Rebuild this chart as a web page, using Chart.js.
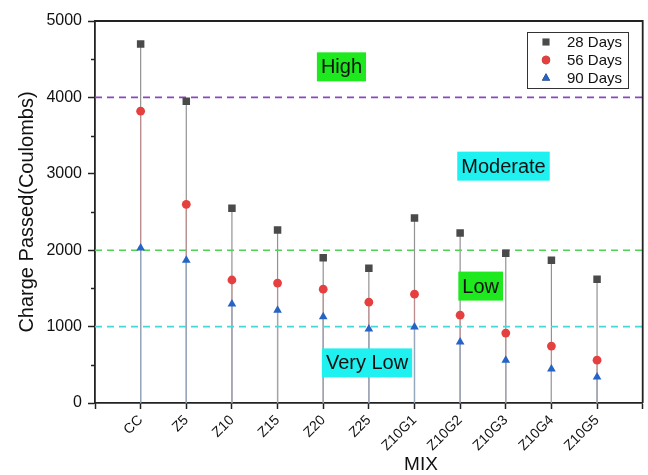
<!DOCTYPE html>
<html>
<head>
<meta charset="utf-8">
<script src="https://cdn.jsdelivr.net/npm/chart.js@4"></script>
<style>
  html, body { margin: 0; padding: 0; background: #fff; }
  #wrap { width: 648px; height: 475px; }
</style>
</head>
<body>
<div id="wrap"><canvas id="rcpt"></canvas></div>
<script>
// mixes and charge passed (Coulombs) at each curing age
const mixes = ['CC', 'Z5', 'Z10', 'Z15', 'Z20', 'Z25', 'Z10G1', 'Z10G2', 'Z10G3', 'Z10G4', 'Z10G5'];
const days28 = [4700, 3950, 2550, 2265, 1900, 1765, 2420, 2225, 1960, 1870, 1620];
const days56 = [3820, 2600, 1610, 1570, 1490, 1320, 1425, 1150, 915, 745, 560];
const days90 = [2030, 1870, 1295, 1215, 1130, 970, 995, 800, 560, 445, 340];
const seriesNames = ['28 Days', '56 Days', '90 Days'];

// chloride penetrability limits and their ratings
const limits = [4000, 2000, 1000];
const ratings = ['High', 'Moderate', 'Low', 'Very Low'];

const FONT = '"Liberation Sans", Arial, sans-serif';

function toPoints(vals) {
    return vals.map((v, i) => ({ x: i + 1, y: v }));
}

// where each rating tag sits, in axis units
const tagSpots = [
    { x: 5.4, y: 4400, bg: '#1ee81e' },
    { x: 8.95, y: 3100, bg: '#1ff0f0' },
    { x: 8.45, y: 1530, bg: '#1ee81e' },
    { x: 5.96, y: 525, bg: '#1ff0f0' }
];
const limitColors = ['#8a48c0', '#4fd24f', '#46d8d8'];

const limitSets = limits.map((lv, i) => ({
    label: 'limit' + lv,
    data: [{ x: 0, y: lv }, { x: 12, y: lv }],
    showLine: true,
    borderColor: limitColors[i],
    borderWidth: 1.6,
    borderDash: [7, 5],
    pointRadius: 0,
    order: 5
}));

const markerSets = [
    { label: seriesNames[0], data: toPoints(days28), pointStyle: 'rect', pointRadius: 5.3, backgroundColor: '#4a4a4a', borderColor: '#4a4a4a', stem: 'rgba(110,110,110,0.75)' },
    { label: seriesNames[1], data: toPoints(days56), pointStyle: 'circle', pointRadius: 4.4, backgroundColor: '#e5403f', borderColor: '#e5403f', stem: 'rgba(205,140,140,0.7)' },
    { label: seriesNames[2], data: toPoints(days90), pointStyle: 'triangle', pointRadius: 5, backgroundColor: '#2563c4', borderColor: '#2563c4', stem: 'rgba(140,175,200,0.8)' }
].map(d => Object.assign(d, { showLine: false, borderWidth: 0, pointHoverRadius: d.pointRadius, order: 1 }));

// vertical drop lines from each marker to the x axis
const dropLines = {
    id: 'dropLines',
    beforeDatasetsDraw(chart) {
        const { ctx } = chart;
        const ys = chart.scales.y;
        const y0 = ys.getPixelForValue(0);
        markerSets.forEach(ds => {
            const idx = chart.data.datasets.indexOf(ds);
            const meta = chart.getDatasetMeta(idx);
            ctx.save();
            ctx.strokeStyle = ds.stem;
            ctx.lineWidth = 1.2;
            meta.data.forEach(pt => {
                ctx.beginPath();
                ctx.moveTo(pt.x, pt.y);
                ctx.lineTo(pt.x, y0);
                ctx.stroke();
            });
            ctx.restore();
        });
    }
};

// rating tags, frame, minor ticks, legend and x title
const extras = {
    id: 'extras',
    afterDatasetsDraw(chart) {
        const { ctx } = chart;
        const xs = chart.scales.x, ys = chart.scales.y;
        ctx.save();
        ctx.font = '20px ' + FONT;
        ctx.textAlign = 'center';
        ctx.textBaseline = 'middle';
        ratings.forEach((txt, i) => {
            const s = tagSpots[i];
            const cx = xs.getPixelForValue(s.x);
            const cy = ys.getPixelForValue(s.y);
            const w = ctx.measureText(txt).width + 8;
            const h = 29;
            ctx.fillStyle = s.bg;
            ctx.fillRect(cx - w / 2, cy - h / 2, w, h);
            ctx.fillStyle = '#111';
            ctx.fillText(txt, cx, cy + 1);
        });
        ctx.restore();
    },
    afterDraw(chart) {
        const { ctx, chartArea: a } = chart;
        const ys = chart.scales.y;
        ctx.save();
        ctx.strokeStyle = '#222';
        ctx.lineWidth = 1.8;
        ctx.beginPath();
        ctx.moveTo(a.left, a.top);
        ctx.lineTo(a.right, a.top);
        ctx.lineTo(a.right, a.bottom);
        ctx.stroke();

        // minor ticks every 500
        ctx.lineWidth = 1.5;
        for (let v = 500; v < 5000; v += 1000) {
            const py = Math.round(ys.getPixelForValue(v)) + 0.5;
            ctx.beginPath();
            ctx.moveTo(a.left - 4, py);
            ctx.lineTo(a.left, py);
            ctx.stroke();
        }

        // legend
        const lx = 527, ly = 32, lw = 101, lh = 56;
        ctx.fillStyle = '#fff';
        ctx.fillRect(lx, ly, lw, lh);
        ctx.strokeStyle = '#333';
        ctx.lineWidth = 1;
        ctx.strokeRect(lx + 0.5, ly + 0.5, lw, lh);
        ctx.font = '15px ' + FONT;
        ctx.textAlign = 'left';
        ctx.textBaseline = 'middle';
        markerSets.forEach((ds, i) => {
            const ry = ly + 10 + i * 18;
            Chart.helpers.drawPoint(ctx, {
                pointStyle: ds.pointStyle,
                radius: ds.pointRadius * 0.95,
                borderWidth: 0,
                rotation: 0
            }, lx + 19, ry);
            ctx.fillStyle = ds.backgroundColor;
            ctx.fill();
            ctx.fillStyle = '#111';
            ctx.fillText(ds.label, lx + 40, ry + 1);
        });

        // x axis title
        ctx.font = '19px ' + FONT;
        ctx.textAlign = 'center';
        ctx.fillStyle = '#111';
        ctx.fillText('MIX', 421, 465);
        ctx.restore();
    }
};

const ctx = document.getElementById('rcpt').getContext('2d');
new Chart(ctx, {
    type: 'scatter',
    data: { datasets: [...markerSets, ...limitSets] },
    options: {
        responsive: true,
        maintainAspectRatio: false,
        animation: false,
        layout: { padding: { top: 21, right: 3, left: 0, bottom: 0 } },
        plugins: {
            legend: { display: false },
            tooltip: { enabled: false }
        },
        scales: {
            x: {
                type: 'linear',
                min: 0,
                max: 12,
                afterBuildTicks(scale) {
                    scale.ticks = Array.from({ length: 13 }, (_, i) => ({ value: i }));
                },
                afterFit(scale) {
                    scale.height = 72;
                    scale.paddingLeft = 0;
                    scale.paddingRight = 0;
                },
                grid: {
                    drawOnChartArea: false,
                    tickLength: 6,
                    tickColor: '#222',
                    tickWidth: 1.5
                },
                border: { color: '#222', width: 1.8 },
                ticks: {
                    autoSkip: false,
                    maxRotation: 45,
                    minRotation: 45,
                    padding: 3,
                    color: '#111',
                    font: { family: FONT, size: 14 },
                    callback: v => mixes[v - 1] || ''
                }
            },
            y: {
                min: 0,
                max: 5000,
                afterFit(scale) { scale.width = 95; },
                grid: {
                    drawOnChartArea: false,
                    tickLength: 7,
                    tickColor: '#222',
                    tickWidth: 1.5
                },
                border: { color: '#222', width: 1.8 },
                ticks: {
                    stepSize: 1000,
                    padding: 6,
                    color: '#111',
                    font: { family: FONT, size: 16 },
                    callback: v => String(v)
                },
                title: {
                    display: true,
                    text: 'Charge Passed(Coulombs)',
                    color: '#111',
                    font: { family: FONT, size: 20 },
                    padding: { top: 15, bottom: 0 }
                }
            }
        }
    },
    plugins: [dropLines, extras]
});
</script>
</body>
</html>
